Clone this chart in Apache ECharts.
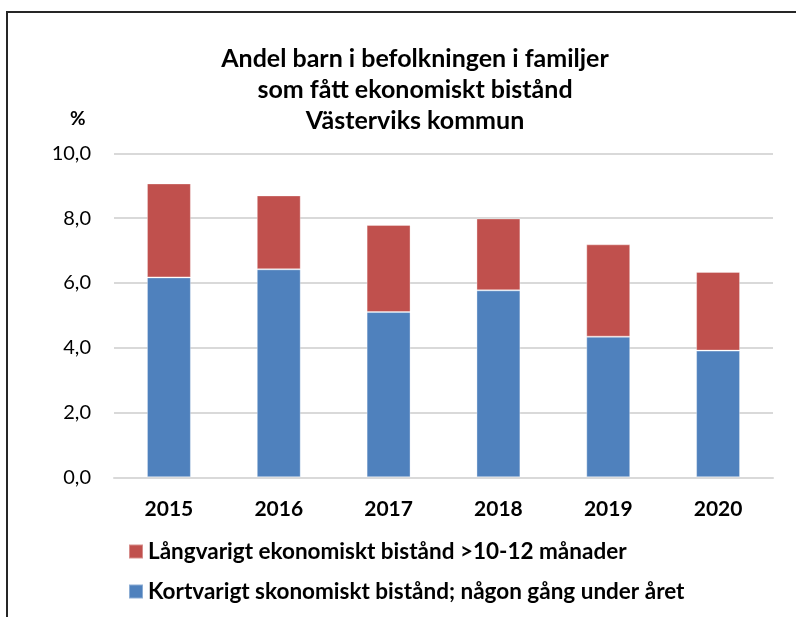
<!DOCTYPE html>
<html>
<head>
<meta charset="utf-8">
<script src="https://cdn.jsdelivr.net/npm/echarts@6/dist/echarts.min.js"></script>
<style>
html,body{margin:0;padding:0;background:#fff;}
#c{position:absolute;left:0;top:0;width:796px;height:617px;}
#frame{position:absolute;left:6px;top:11px;right:0;bottom:0;border-left:2px solid #262626;border-top:2px solid #262626;pointer-events:none;}
</style>
</head>
<body>
<div id="c"></div>
<div id="frame"></div>
<script>
const categories = ['2015', '2016', '2017', '2018', '2019', '2020'];
const shortTerm = [6.17, 6.42, 5.10, 5.77, 4.34, 3.91];
const longTerm = [2.90, 2.28, 2.69, 2.22, 2.85, 2.43];
const yTicks = [0, 2, 4, 6, 8, 10];
const nameLong = 'Långvarigt ekonomiskt bistånd >10-12 månader';
const nameShort = 'Kortvarigt skonomiskt bistånd; någon gång under året';
const titleText = 'Andel barn i befolkningen i familjer\nsom fått ekonomiskt bistånd\nVästerviks kommun';

const FONT = 'Lato, "Open Sans", sans-serif';
const legendText = {fontFamily: FONT, fontSize: 22.5, fontWeight: 'bold', color: '#000'};
const chart = echarts.init(document.getElementById('c'), null, {renderer: 'canvas'});
chart.setOption({
  animation: false,
  textStyle: {fontFamily: FONT},
  title: [
    {
      text: titleText,
      left: 410, top: 38, textAlign: 'center',
      textStyle: {fontFamily: FONT, fontSize: 25, fontWeight: 'bold', color: '#000', lineHeight: 31}
    },
    {
      text: '%', left: 65, top: 104,
      textStyle: {fontFamily: FONT, fontSize: 19, fontWeight: 'bold', color: '#000'}
    }
  ],
  grid: {left: 114, right: 23, top: 153.3, bottom: 139.7, containLabel: false},
  legend: [
    {
      left: 123, top: 535, data: [nameLong],
      itemWidth: 14, itemHeight: 14, icon: 'rect', textStyle: legendText
    },
    {
      left: 123, top: 575, data: [nameShort],
      itemWidth: 14, itemHeight: 14, icon: 'rect', textStyle: legendText
    }
  ],
  xAxis: {
    type: 'category', data: categories,
    axisLine: {show: true, lineStyle: {color: '#d9d9d9', width: 2}},
    axisTick: {show: false},
    axisLabel: {fontFamily: FONT, fontSize: 21, fontWeight: 'bold', color: '#000', margin: 21}
  },
  yAxis: {
    type: 'value', min: 0, max: 10, interval: 2,
    axisLine: {show: false}, axisTick: {show: false},
    splitLine: {lineStyle: {color: '#d9d9d9', width: 2}},
    axisLabel: {
      fontFamily: FONT, fontSize: 20, color: '#000', margin: 23,
      formatter: v => yTicks.includes(v) ? v.toFixed(1).replace('.', ',') : ''
    }
  },
  series: [
    {
      name: nameShort, type: 'bar', stack: 'a', data: shortTerm, barWidth: '40%',
      itemStyle: {color: '#4F81BD', borderColor: 'rgba(255,255,255,0.35)', borderWidth: 1}
    },
    {
      name: nameLong, type: 'bar', stack: 'a', data: longTerm, barWidth: '40%',
      itemStyle: {color: '#C0504D', borderColor: 'rgba(255,255,255,0.35)', borderWidth: 1}
    }
  ]
});
</script>
</body>
</html>
